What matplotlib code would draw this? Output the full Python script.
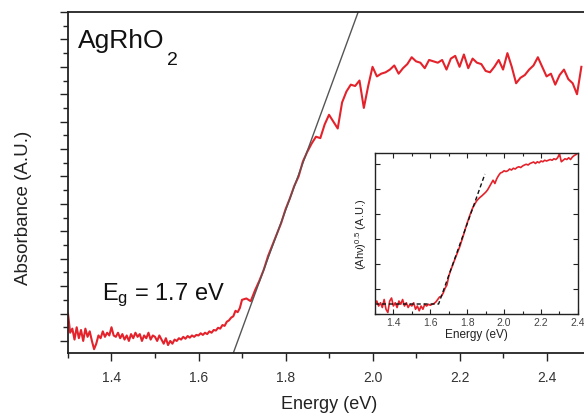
import numpy as np
import matplotlib
matplotlib.use("Agg")
import matplotlib.pyplot as plt
from matplotlib.ticker import MultipleLocator

plt.rcParams['font.family'] = ['Liberation Sans', 'DejaVu Sans']
plt.rcParams['mathtext.fontset'] = 'custom'
plt.rcParams['mathtext.rm'] = 'Liberation Sans'
plt.rcParams['mathtext.it'] = 'Liberation Sans'

# Absorbance spectrum (arbitrary units), fine sampling below 1.70 eV
energy_low = np.round(np.arange(1.300, 1.7001, 0.005), 3)
absorb_low = [0.10, 0.03, 0.045, 0.005, 0.05, 0.01, 0.04, 0.0, 0.045, 0.015,
              0.035, 0.0, -0.03, -0.01, 0.02, 0.01, 0.035, 0.015, 0.03, 0.02,
              0.05, 0.02, 0.015, 0.03, 0.01, 0.025, 0.005, 0.02, 0.0, 0.025,
              0.01, 0.03, 0.015, 0.025, 0.0, 0.02, 0.01, 0.03, 0.005, 0.02,
              0.015, 0.0, 0.02, 0.005, -0.01, 0.01, -0.015, 0.0, -0.01, 0.005,
              0.0, 0.01, 0.005, 0.015, 0.008, 0.018, 0.012, 0.02, 0.015, 0.022,
              0.02, 0.028, 0.022, 0.03, 0.025, 0.035, 0.03, 0.04, 0.038, 0.048,
              0.045, 0.058, 0.055, 0.07, 0.075, 0.085, 0.09, 0.11, 0.105, 0.12,
              0.15]
energy_high = np.round(np.arange(1.71, 2.4801, 0.01), 2)
absorb_high = [0.155, 0.145, 0.185, 0.22, 0.26, 0.31, 0.35, 0.39, 0.43, 0.48,
               0.52, 0.565, 0.60, 0.655, 0.69, 0.72, 0.745, 0.74, 0.79, 0.825,
               0.80, 0.775, 0.87, 0.91, 0.935, 0.93, 0.95, 0.85, 0.93, 1.0,
               0.965, 0.975, 0.98, 0.99, 1.005, 0.975, 0.995, 1.01, 1.035, 1.02,
               1.015, 0.995, 1.025, 1.02, 1.015, 1.025, 0.99, 1.03, 1.04, 1.0,
               1.045, 0.995, 1.03, 1.015, 1.01, 0.985, 0.98, 1.0, 1.025, 0.99,
               1.05, 1.0, 0.94, 0.96, 0.97, 0.99, 1.005, 1.035, 1.0, 0.965,
               0.975, 0.935, 0.97, 0.99, 0.955, 0.94, 0.90, 1.0]
energy = np.concatenate([energy_low, energy_high])
absorb = np.array(absorb_low + absorb_high)

# linear extrapolation of the absorption edge
fit_x = [1.680, 1.967]
fit_y = [-0.044, 1.20]

# Tauc plot, (A h nu)^0.5
tauc_e = np.round(np.arange(1.30, 2.4001, 0.01), 2)
tauc_y = [0.39, 0.52, 0.32, 0.45, 0.26, 0.58, 0.19, 0.06, 0.52, 0.64,
          0.32, 0.45, 0.26, 0.52, 0.39, 0.58, 0.32, 0.45, 0.26, 0.39,
          0.32, 0.45, 0.19, 0.32, 0.13, 0.32, 0.19, 0.39, 0.32, 0.39,
          0.35, 0.39, 0.42, 0.48, 0.58, 0.68, 0.71, 0.84, 1.03, 1.16,
          1.51, 1.74, 1.93, 2.13, 2.32, 2.51, 2.70, 2.93, 3.16, 3.41,
          3.64, 3.86, 4.06, 4.25, 4.38, 4.51, 4.60, 4.67, 4.73, 4.80,
          4.87, 4.96, 5.09, 5.22, 5.35, 5.22, 5.41, 5.54, 5.64, 5.67,
          5.73, 5.70, 5.73, 5.80, 5.76, 5.83, 5.80, 5.86, 5.89, 5.86,
          5.92, 5.96, 5.99, 5.96, 6.02, 6.05, 6.08, 6.02, 6.09, 6.05,
          6.12, 6.09, 6.15, 6.12, 6.15, 6.18, 6.15, 6.21, 6.18, 6.25,
          6.41, 6.09, 6.15, 6.21, 6.18, 6.25, 6.18, 6.28, 6.34, 6.38,
          6.44]
tauc_fit_x = [1.30, 1.645, 1.896]
tauc_fit_y = [0.40, 0.40, 5.60]

red = '#e4222b'
txt = '#222222'

fig = plt.figure(figsize=(5.84, 4.14), dpi=100)
ax = fig.add_axes([0.1164, 0.1449, 0.894, 0.8237])
ax.plot(energy, absorb, color=red, lw=1.5)
ax.plot(fit_x, fit_y, color='#555555', lw=1.0)
ax.set_xlim(1.3, 2.5)
ax.set_ylim(-0.044, 1.2)
ax.xaxis.set_major_locator(MultipleLocator(0.2))
ax.xaxis.set_minor_locator(MultipleLocator(0.1))
ax.yaxis.set_major_locator(MultipleLocator(0.1))
ax.yaxis.set_minor_locator(MultipleLocator(0.05))
ax.xaxis.set_major_formatter(matplotlib.ticker.FormatStrFormatter('%.1f'))
ax.tick_params(which='both', direction='out', width=1.0, colors=txt,
               labelsize=10, labelcolor='#333333')
ax.tick_params(which='major', length=6)
ax.tick_params(which='minor', length=3.5)
ax.tick_params(axis='y', labelleft=False)
ax.tick_params(axis='x', pad=6)
for s in ax.spines.values():
    s.set_linewidth(1.3)
    s.set_color(txt)
ax.set_xlabel('Energy (eV)', fontsize=13, color=txt, labelpad=8)
ax.set_ylabel('Absorbance (A.U.)', fontsize=13.5, color=txt)
ax.yaxis.set_label_coords(-0.069, 0.428)

# compound name with a dropped subscript
ax.text(0.019, 0.897, 'AgRhO', transform=ax.transAxes, fontsize=19,
        color='#111111', va='baseline')
ax.text(0.19, 0.8475, '2', transform=ax.transAxes, fontsize=14,
        color='#111111', va='baseline')
ax.text(0.065, 0.158, 'E$_g$ = 1.7 eV', transform=ax.transAxes, fontsize=17,
        color='#111111', va='baseline')

# inset with the Tauc plot
ins = fig.add_axes([0.642, 0.2391, 0.3476, 0.3889])
ins.plot(tauc_e, tauc_y, color=red, lw=1.2)
ins.plot(tauc_fit_x, tauc_fit_y, color='#111111', lw=1.0, ls=(0, (3, 2)))
ins.set_xlim(1.3, 2.4)
ins.set_ylim(0, 6.44)
ins.xaxis.set_major_locator(MultipleLocator(0.2))
ins.xaxis.set_minor_locator(MultipleLocator(0.1))
ins.yaxis.set_major_locator(MultipleLocator(1))
ins.xaxis.set_major_formatter(matplotlib.ticker.FormatStrFormatter('%.1f'))
ins.tick_params(which='both', direction='in', top=True, right=True,
                width=0.8, colors=txt, labelsize=7.5, labelcolor='#444444',
                pad=2)
ins.tick_params(which='major', length=3.5)
ins.tick_params(which='minor', length=2)
ins.tick_params(axis='y', labelleft=False)
for s in ins.spines.values():
    s.set_linewidth(1.0)
    s.set_color(txt)
ins.set_xlabel('Energy (eV)', fontsize=8.5, color=txt, labelpad=1)
ins.set_ylabel('(Ah\u03bd)$^{0.5}$ (A.U.)', fontsize=8, color=txt, labelpad=4)

fig.savefig('out.png', dpi=100)
